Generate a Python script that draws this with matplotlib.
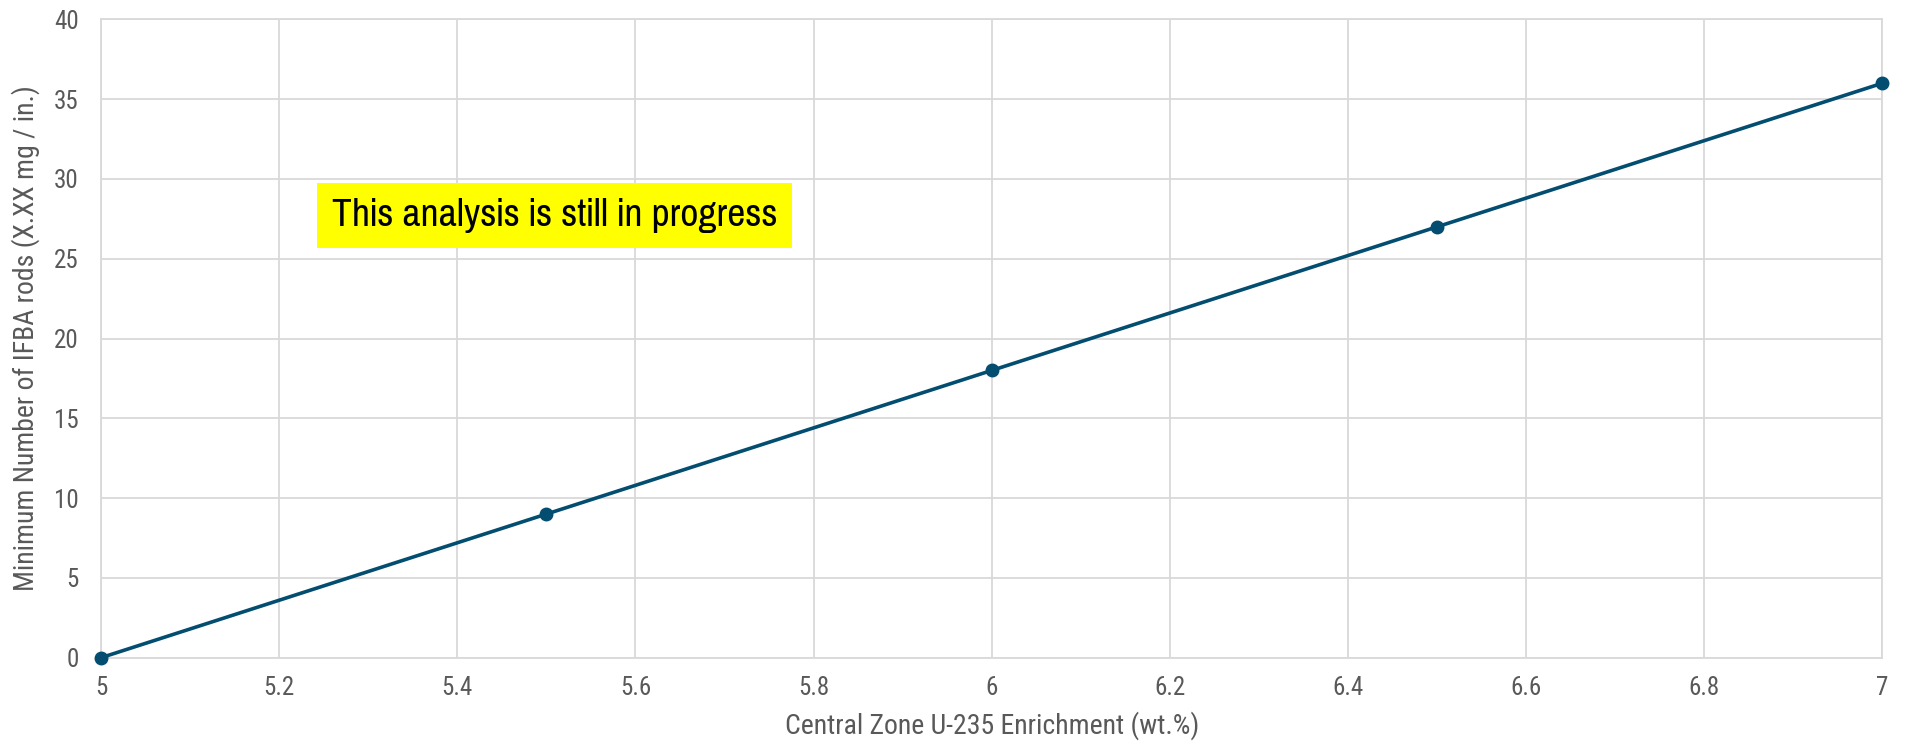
import matplotlib.pyplot as plt
from matplotlib import font_manager

enrichment = [5.0, 5.5, 6.0, 6.5, 7.0]
min_ifba_rods = [0, 9, 18, 27, 36]
x_ticks = [5, 5.2, 5.4, 5.6, 5.8, 6, 6.2, 6.4, 6.6, 6.8, 7]
x_tick_labels = ['5', '5.2', '5.4', '5.6', '5.8', '6', '6.2', '6.4', '6.6', '6.8', '7']
y_ticks = [0, 5, 10, 15, 20, 25, 30, 35, 40]


def pick(cands):
    names = {f.name for f in font_manager.fontManager.ttflist}
    for c in cands:
        if c in names:
            return c
    return 'DejaVu Sans'


axis_font = pick(['Roboto Condensed', 'Arial Narrow', 'Liberation Sans Narrow', 'Archivo Narrow', 'Barlow Condensed'])
note_font = pick(['Arial Narrow', 'Liberation Sans Narrow', 'Pragati Narrow', 'PT Sans Narrow', 'Archivo Narrow', 'Roboto Condensed'])
plt.rcParams['font.family'] = [axis_font, 'DejaVu Sans']

fig = plt.figure(figsize=(19.08, 7.47), dpi=100)
ax = fig.add_axes([101 / 1908, 1 - 657.7 / 747, (1882.3 - 101) / 1908, (657.7 - 19.4) / 747])

line_color = '#034d70'
ax.plot(enrichment, min_ifba_rods, color=line_color, linewidth=2.6, marker='o',
        markersize=9, zorder=3, clip_on=False)

ax.set_xlim(5, 7)
ax.set_ylim(0, 40)
ax.set_xticks(x_ticks)
ax.set_xticklabels(x_tick_labels)
ax.set_yticks(y_ticks)
ax.grid(True, color='#d9d9d9', linewidth=1.3)
ax.set_axisbelow(True)
for s in ax.spines.values():
    s.set_color('#d9d9d9')
    s.set_linewidth(1.3)
ax.tick_params(length=0, labelsize=18, labelcolor='#595959')
ax.tick_params(axis='x', pad=13)
ax.tick_params(axis='y', pad=16)

ax.set_xlabel('Central Zone U-235 Enrichment (wt.%)', fontsize=20, color='#595959', labelpad=8)
ax.set_ylabel('Minimum Number of IFBA rods (X.XX mg / in.)', fontsize=20, color='#595959', labelpad=10)

# yellow note box
note = ax.text(5.509, 27.7, 'This analysis is still in progress', fontsize=31, color='black',
               ha='center', va='center', family=[note_font, 'DejaVu Sans'],
               bbox=dict(facecolor='#ffff00', edgecolor='none', pad=11))

fig.savefig('out.png', dpi=100)
